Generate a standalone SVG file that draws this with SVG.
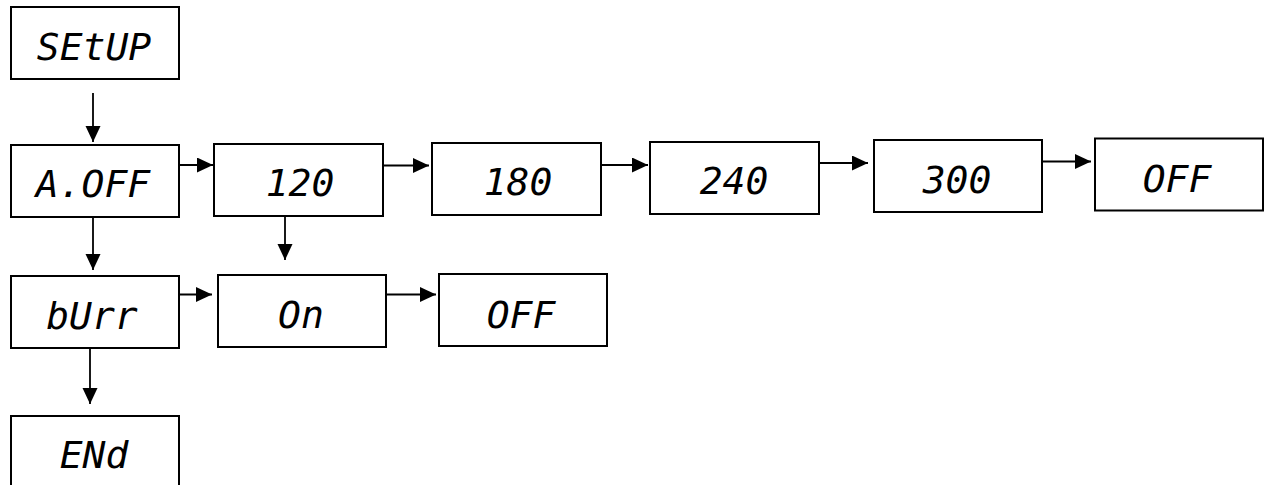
<svg xmlns="http://www.w3.org/2000/svg" width="1267" height="485" viewBox="0 0 1267 485">
<style>
.box{fill:#fff;stroke:#000;stroke-width:2}
.lbl{font-family:"DejaVu Sans Mono","Liberation Mono",monospace;font-size:38px;font-style:oblique;text-anchor:middle;fill:#000}
.con{stroke:#000;stroke-width:1.8;fill:none}
</style>
<defs>
<marker id="ah" markerUnits="userSpaceOnUse" markerWidth="16" markerHeight="16" refX="16" refY="7.5" orient="auto">
<path d="M0,0 L16,7.5 L0,15 Z" fill="#000"/>
</marker>
</defs>
<rect width="1267" height="485" fill="#fff"/>
<g id="connectors">
<line class="con" x1="93" y1="93" x2="93" y2="142" marker-end="url(#ah)"/>
<line class="con" x1="179" y1="165" x2="213" y2="165" marker-end="url(#ah)"/>
<line class="con" x1="383" y1="165.5" x2="429" y2="165.5" marker-end="url(#ah)"/>
<line class="con" x1="601" y1="165" x2="648" y2="165" marker-end="url(#ah)"/>
<line class="con" x1="819" y1="163" x2="868" y2="163" marker-end="url(#ah)"/>
<line class="con" x1="1042" y1="161.5" x2="1091" y2="161.5" marker-end="url(#ah)"/>
<line class="con" x1="93" y1="217" x2="93" y2="270" marker-end="url(#ah)"/>
<line class="con" x1="285" y1="216" x2="285" y2="260" marker-end="url(#ah)"/>
<line class="con" x1="179" y1="294.5" x2="212" y2="294.5" marker-end="url(#ah)"/>
<line class="con" x1="386" y1="294.5" x2="436" y2="294.5" marker-end="url(#ah)"/>
<line class="con" x1="90" y1="348" x2="90" y2="404" marker-end="url(#ah)"/>
</g>
<g id="n-setup"><rect class="box" x="11" y="7" width="168" height="72"/><text class="lbl" x="94" y="60">SEtUP</text></g>
<g id="n-aoff"><rect class="box" x="11" y="145" width="168" height="72"/><text class="lbl" x="93" y="197">A.OFF</text></g>
<g id="n-120"><rect class="box" x="214" y="144" width="169" height="72"/><text class="lbl" x="300" y="196">120</text></g>
<g id="n-180"><rect class="box" x="432" y="143" width="169" height="72"/><text class="lbl" x="518" y="195">180</text></g>
<g id="n-240"><rect class="box" x="650" y="142" width="169" height="72"/><text class="lbl" x="734" y="194">240</text></g>
<g id="n-300"><rect class="box" x="874" y="140" width="168" height="72"/><text class="lbl" x="957" y="193">300</text></g>
<g id="n-off1"><rect class="box" x="1095" y="138.5" width="168" height="72"/><text class="lbl" x="1177" y="191.5">OFF</text></g>
<g id="n-burr"><rect class="box" x="11" y="276" width="168" height="72"/><text class="lbl" x="92" y="329">bUrr</text></g>
<g id="n-on"><rect class="box" x="218" y="275" width="168" height="72"/><text class="lbl" x="301" y="328">On</text></g>
<g id="n-off2"><rect class="box" x="439" y="274" width="168" height="72"/><text class="lbl" x="521" y="328">OFF</text></g>
<g id="n-end"><rect class="box" x="11" y="416" width="168" height="72"/><text class="lbl" x="94" y="468">ENd</text></g>
</svg>
